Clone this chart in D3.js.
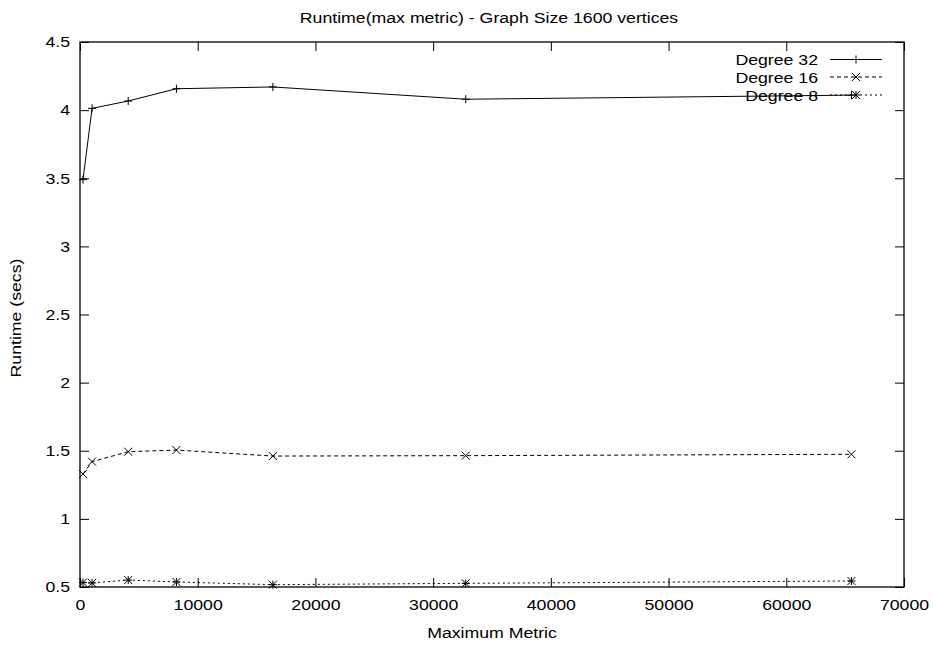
<!DOCTYPE html>
<html><head><meta charset="utf-8">
<script src="https://cdn.jsdelivr.net/npm/d3@7"></script>
<style>body{margin:0;background:#fff}text{font-family:"Liberation Sans",Arial,sans-serif;font-size:15px;fill:#000}</style>
</head><body><svg id="c" width="933" height="650"></svg>
<script>
const xValues = [256, 1024, 4096, 8192, 16384, 32768, 65536];
const deg32 = [3.49, 4.013, 4.067, 4.157, 4.17, 4.08, 4.11];
const deg16 = [1.329, 1.42, 1.493, 1.505, 1.461, 1.464, 1.474];
const deg8 = [0.532, 0.530, 0.551, 0.537, 0.517, 0.527, 0.544];
const seriesNames = ["Degree 32", "Degree 16", "Degree 8"];
const xTicks = [0, 10000, 20000, 30000, 40000, 50000, 60000, 70000];
const yTicks = [0.5, 1, 1.5, 2, 2.5, 3, 3.5, 4, 4.5];

const svg = d3.select("#c");
const L = 80, R = 904, T = 42, B = 587;
const SX = 1.18;
const x = d3.scaleLinear().domain([0, 70000]).range([L, R]);
const y = d3.scaleLinear().domain([0.5, 4.5]).range([B, T]);
const FONT = "\"Liberation Sans\",Arial,sans-serif";

function label(px, py, str, anchor, rot) {
  svg.append("text").attr("transform", `translate(${px},${py})${rot ? " rotate(" + rot + ")" : ""} scale(${SX},1)`)
    .attr("text-anchor", anchor).text(str);
}
label(489, 23, "Runtime(max metric) - Graph Size 1600 vertices", "middle");
label(492, 638, "Maximum Metric", "middle");
label(21, 318, "Runtime (secs)", "middle", -90);

const tk = 9;
const ax = svg.append("g");
ax.append("g").attr("transform", `translate(0,${B})`)
  .call(d3.axisBottom(x).tickValues(xTicks).tickSizeInner(-tk).tickSizeOuter(0).tickPadding(12).tickFormat(d3.format("d")));
ax.append("g").attr("transform", `translate(0,${T})`)
  .call(d3.axisTop(x).tickValues(xTicks).tickSizeInner(-tk).tickSizeOuter(0).tickFormat(""));
const yl = ax.append("g").attr("transform", `translate(${L},0)`)
  .call(d3.axisLeft(y).tickValues(yTicks).tickSizeInner(-tk).tickSizeOuter(0).tickPadding(9).tickFormat(d => d));
ax.append("g").attr("transform", `translate(${R},0)`)
  .call(d3.axisRight(y).tickValues(yTicks).tickSizeInner(-tk).tickSizeOuter(0).tickFormat(""));
ax.selectAll(".domain").remove();
ax.selectAll("line").attr("stroke", "#000");
ax.selectAll("text").style("font-size", "15px").style("font-family", FONT).attr("fill", "#000")
  .attr("transform", `scale(${SX},1)`);
yl.selectAll("text").attr("x", -10 / SX);
svg.append("rect").attr("x", L).attr("y", T).attr("width", R - L).attr("height", B - T)
  .attr("fill", "none").attr("stroke", "#000").attr("stroke-width", 1.3);

const dashes = [null, "4,3", "2,3"];
const allSeries = [deg32, deg16, deg8];
const ms = 4;
function marker(g, cx, cy, k) {
  const p = d3.path();
  if (k === 0 || k === 2) { p.moveTo(cx - ms, cy); p.lineTo(cx + ms, cy); p.moveTo(cx, cy - ms); p.lineTo(cx, cy + ms); }
  if (k === 1 || k === 2) { p.moveTo(cx - ms, cy - ms); p.lineTo(cx + ms, cy + ms); p.moveTo(cx - ms, cy + ms); p.lineTo(cx + ms, cy - ms); }
  g.append("path").attr("d", p.toString()).attr("stroke", "#000").attr("stroke-width", 1).attr("fill", "none");
}

// legend
const legX = 818, sx0 = 830, sx1 = 882;
const legY = [59.5, 77, 95];
seriesNames.forEach((n, k) => {
  const g = svg.append("g");
  g.append("text").attr("transform", `translate(${legX},${legY[k] + 5.5}) scale(${SX},1)`)
    .attr("text-anchor", "end").text(n);
  g.append("line").attr("x1", sx0).attr("x2", sx1).attr("y1", legY[k]).attr("y2", legY[k])
    .attr("stroke", "#000").attr("stroke-width", 1).attr("stroke-dasharray", dashes[k]);
  marker(g, (sx0 + sx1) / 2, legY[k], k);
});

const line = d3.line().x((d, i) => x(xValues[i])).y(d => y(d));
allSeries.forEach((s, k) => {
  const g = svg.append("g");
  g.append("path").attr("d", line(s)).attr("fill", "none").attr("stroke", "#000").attr("stroke-width", 1)
    .attr("stroke-dasharray", dashes[k]);
  s.forEach((v, i) => marker(g, x(xValues[i]), y(v), k));
});
</script></body></html>
